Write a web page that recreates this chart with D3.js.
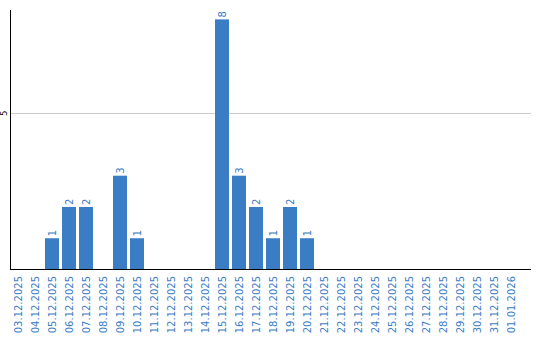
<!DOCTYPE html>
<html lang="en">
<head>
<meta charset="UTF-8">
<script src="https://d3js.org/d3.v7.min.js"></script>
<style>
    body { margin: 0; background: #fff; }
    svg { display: block; }
</style>
</head>
<body>
<svg width="540" height="340" id="chart"></svg>
<script>
    // data
    const dates = ["03.12.2025", "04.12.2025", "05.12.2025", "06.12.2025", "07.12.2025",
        "08.12.2025", "09.12.2025", "10.12.2025", "11.12.2025", "12.12.2025",
        "13.12.2025", "14.12.2025", "15.12.2025", "16.12.2025", "17.12.2025",
        "18.12.2025", "19.12.2025", "20.12.2025", "21.12.2025", "22.12.2025",
        "23.12.2025", "24.12.2025", "25.12.2025", "26.12.2025", "27.12.2025",
        "28.12.2025", "29.12.2025", "30.12.2025", "31.12.2025", "01.01.2026"];
    const counts = [0, 0, 1, 2, 2, 0, 3, 1, 0, 0, 0, 0, 8, 3, 2, 1, 2, 1,
        0, 0, 0, 0, 0, 0, 0, 0, 0, 0, 0, 0];
    const yTicks = [5];

    const svg = d3.select('#chart');
    const blue = "#3a7dc4";

    const x = d3.scaleBand()
        .domain(dates)
        .range([9.5, 519.5])
        .paddingInner(0.18)
        .paddingOuter(0.09);
    const y = d3.scaleLinear()
        .domain([0, 8.3])
        .range([269.5, 10]);

    // gridlines
    svg.selectAll(".grid")
        .data(yTicks)
        .enter().append("line")
        .attr("x1", 10.5)
        .attr("x2", 531)
        .attr("y1", d => Math.round(y(d)) + 0.5)
        .attr("y2", d => Math.round(y(d)) + 0.5)
        .attr("stroke", "#cccccc");

    // y tick labels (rotated)
    svg.selectAll(".ytick")
        .data(yTicks)
        .enter().append("text")
        .attr("transform", d => `translate(7,${y(d)}) rotate(-90)`)
        .attr("text-anchor", "middle")
        .attr("font-family", "DejaVu Sans")
        .attr("font-size", 8)
        .attr("fill", "#000")
        .text(d => d);

    // bars
    svg.selectAll(".bar")
        .data(counts.map((c, i) => ({date: dates[i], c: c})).filter(d => d.c > 0))
        .enter().append("rect")
        .attr("x", d => Math.round(x(d.date)))
        .attr("y", d => y(d.c))
        .attr("width", Math.round(x.bandwidth()))
        .attr("height", d => y(0) - y(d.c))
        .attr("fill", blue);

    // value labels
    svg.selectAll(".val")
        .data(counts.map((c, i) => ({date: dates[i], c: c})).filter(d => d.c > 0))
        .enter().append("text")
        .attr("transform", d => `translate(${x(d.date) + x.bandwidth() / 2 + 4},${y(d.c) - 2}) rotate(-90)`)
        .attr("text-anchor", "start")
        .attr("font-family", "DejaVu Sans")
        .attr("font-size", 10)
        .attr("fill", blue)
        .text(d => d.c);

    // axes lines
    svg.append("line")
        .attr("x1", 10.5).attr("x2", 10.5)
        .attr("y1", 10).attr("y2", 270)
        .attr("stroke", "#000");
    svg.append("line")
        .attr("x1", 10).attr("x2", 531)
        .attr("y1", 269.5).attr("y2", 269.5)
        .attr("stroke", "#000");

    // category labels
    svg.selectAll(".xlab")
        .data(dates)
        .enter().append("text")
        .attr("transform", d => `translate(${x(d) + x.bandwidth() / 2 + 4},276) rotate(-90)`)
        .attr("text-anchor", "end")
        .attr("font-family", "DejaVu Sans")
        .attr("font-size", 10)
        .attr("fill", blue)
        .text(d => d);
</script>
</body>
</html>
